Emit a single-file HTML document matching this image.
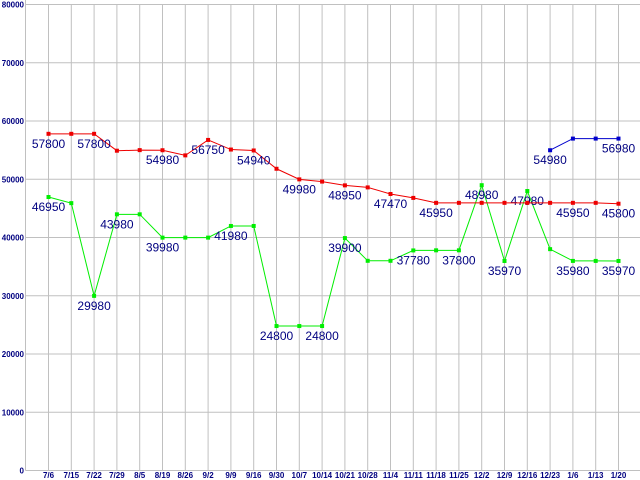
<!DOCTYPE html>
<html><head><meta charset="utf-8"><style>
body{margin:0;background:#fff}
svg{display:block}
text{font-family:"Liberation Sans",sans-serif}
</style></head><body>
<svg id="chart" width="640" height="480" xmlns="http://www.w3.org/2000/svg"></svg>
<script>
const categories=["7/6","7/15","7/22","7/29","8/5","8/19","8/26","9/2","9/9","9/16","9/30","10/7","10/14","10/21","10/28","11/4","11/11","11/18","11/25","12/2","12/9","12/16","12/23","1/6","1/13","1/20"];
const redValues=[57800,57800,57800,54900,55000,54980,54100,56750,55100,54940,51800,49980,49600,48950,48600,47470,46800,45950,45950,45950,45950,45950,45950,45950,45950,45800];
const redLabels=[1,0,1,0,0,1,0,1,0,1,0,1,0,1,0,1,0,1,0,0,0,0,0,1,0,1];
const greenValues=[46950,45900,29980,43980,43980,39980,39980,39980,41980,41980,24800,24800,24800,39900,36000,36000,37780,37800,37800,48980,35970,47980,38000,35980,35980,35970];
const greenLabels=[1,0,1,1,0,1,0,0,1,0,1,0,1,1,0,0,1,0,1,1,1,1,0,1,0,1];
const blueValues=[null,null,null,null,null,null,null,null,null,null,null,null,null,null,null,null,null,null,null,null,null,null,54980,56980,56980,56980];
const blueLabels=[0,0,0,0,0,0,0,0,0,0,0,0,0,0,0,0,0,0,0,0,0,0,1,0,0,1];
const yTicks=[0,10000,20000,30000,40000,50000,60000,70000,80000];

const svg=document.getElementById('chart');
const NS='http://www.w3.org/2000/svg';
const x0=48.5, dx=22.8, yBase=470.5, yTop=4.5, yMax=80000;
const X=i=>x0+i*dx;
const Y=v=>yBase-(v/yMax)*(yBase-yTop);
function mk(t,a){const e=document.createElementNS(NS,t);for(const k in a)e.setAttribute(k,a[k]);svg.appendChild(e);return e;}

yTicks.forEach(v=>{
  const l=mk('line',{x1:25.5,x2:640,y1:Y(v),y2:Y(v),stroke:'#c0c0c0','stroke-width':1});
  
  
  const t=mk('text',{x:24,y:Y(v)+3,'text-anchor':'end','font-size':8,'font-weight':'bold',fill:'#000080'});
  t.textContent=v;
  
  
});
categories.forEach((c,i)=>{
  const l=mk('line',{x1:X(i),x2:X(i),y1:yTop,y2:yBase,stroke:'#c0c0c0','stroke-width':1});
  
  
  const t=mk('text',{x:X(i),y:478,'text-anchor':'middle','font-size':8,'font-weight':'bold',fill:'#000080'});
  t.textContent=c;
  
  
});
const ax=mk('line',{x1:25.5,x2:25.5,y1:0,y2:yBase,stroke:'#c0c0c0'});



function series(vals,labels,color,name){
  let pts=[];
  vals.forEach((v,i)=>{if(v!=null)pts.push(X(i)+','+Y(v));});
  const p=mk('polyline',{points:pts.join(' '),fill:'none',stroke:color,'stroke-width':1});
  
  
  vals.forEach((v,i)=>{
    if(v==null)return;
    const r=mk('rect',{x:X(i)-2,y:Y(v)-2,width:4,height:4,fill:color});
    
    
    if(labels[i]){
      const t=mk('text',{x:X(i),y:Y(v)+14,'text-anchor':'middle','font-size':12,fill:'#000080'});
      t.textContent=v;
      
      
    }
  });
}
series(greenValues,greenLabels,'#00ee00','green-series');
series(redValues,redLabels,'#ee0000','red-series');
series(blueValues,blueLabels,'#0000cc','blue-series');
</script>
</body></html>
